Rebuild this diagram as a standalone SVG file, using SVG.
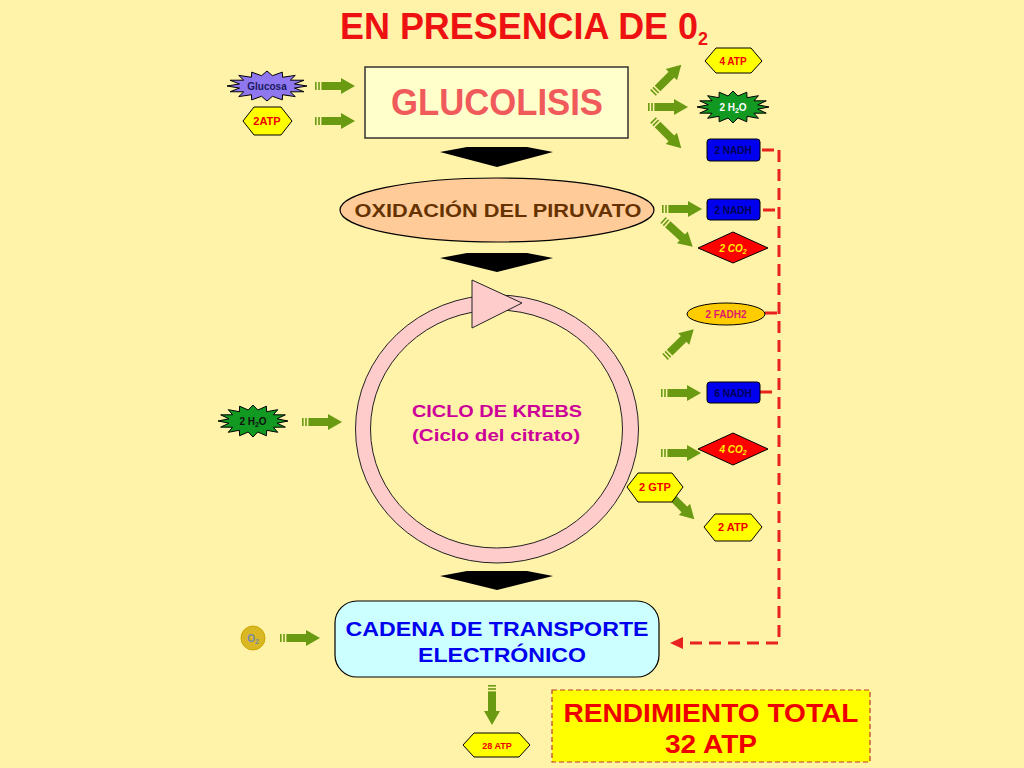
<svg xmlns="http://www.w3.org/2000/svg" xmlns:xlink="http://www.w3.org/1999/xlink" width="1024" height="768" viewBox="0 0 1024 768">
<style>
text{font-family:"Liberation Sans","DejaVu Sans",sans-serif;font-weight:bold;text-anchor:middle}
.hex{fill:#ffff00;stroke:#000;stroke-width:1}
.nadh{fill:#0000ee;stroke:#000;stroke-width:1}
.co2{fill:#ff0000;stroke:#000;stroke-width:1}
.ga{fill:#6a9a12}
.blk{fill:#000}
.dash{fill:none;stroke:#e8221f;stroke-width:3;stroke-dasharray:12 7}
.sm{font-size:10px}
.red{fill:#ee0000}
</style>
<defs>
<path id="star" stroke="#000" stroke-width="1" vector-effect="non-scaling-stroke" d="M1,0 L0.687,0.137 L0.924,0.383 L0.582,0.389 L0.707,0.707 L0.389,0.582 L0.383,0.924 L0.137,0.687 L0,1 L-0.137,0.687 L-0.383,0.924 L-0.389,0.582 L-0.707,0.707 L-0.582,0.389 L-0.924,0.383 L-0.687,0.137 L-1,0 L-0.687,-0.137 L-0.924,-0.383 L-0.582,-0.389 L-0.707,-0.707 L-0.389,-0.582 L-0.383,-0.924 L-0.137,-0.687 L0,-1 L0.137,-0.687 L0.383,-0.924 L0.389,-0.582 L0.707,-0.707 L0.582,-0.389 L0.924,-0.383 L0.687,-0.137 Z"/>
<g id="garrow" class="ga">
<rect x="0" y="-4" width="1.6" height="8"/>
<rect x="3.2" y="-4" width="1.6" height="8"/>
<rect x="6.4" y="-4" width="20" height="8"/>
<polygon points="26,-8 40,0 26,8"/>
</g>
</defs>
<rect x="0" y="0" width="1024" height="768" fill="#fff2a9"/>

<g id="title">
<text x="524" y="39" font-size="36" fill="#ee1111" textLength="368" lengthAdjust="spacingAndGlyphs">EN PRESENCIA DE 0<tspan font-size="18" dy="6">2</tspan></text>
</g>

<g id="connectors">
<use xlink:href="#garrow" transform="translate(315,86)"/>
<use xlink:href="#garrow" transform="translate(315,121)"/>
<use xlink:href="#garrow" transform="translate(653,93) rotate(-45)"/>
<use xlink:href="#garrow" transform="translate(648,107)"/>
<use xlink:href="#garrow" transform="translate(653,120) rotate(45)"/>
<use xlink:href="#garrow" transform="translate(662,209)"/>
<use xlink:href="#garrow" transform="translate(663,220) rotate(42)"/>
<use xlink:href="#garrow" transform="translate(665,357) rotate(-44)"/>
<use xlink:href="#garrow" transform="translate(661,393)"/>
<use xlink:href="#garrow" transform="translate(661,453)"/>
<use xlink:href="#garrow" transform="translate(302,422)"/>
<use xlink:href="#garrow" transform="translate(280,638)"/>
<use xlink:href="#garrow" transform="translate(492,685) rotate(90)"/>
<g class="ga" transform="translate(671,496) rotate(45)">
<rect x="0" y="-4" width="20" height="8"/>
<polygon points="19,-8 33,0 19,8"/>
</g>
<polygon class="blk" points="467,147 527,147 553,152 497,167 440,152"/>
<polygon class="blk" points="467,253 527,253 553,258 497,272 440,258"/>
<polygon class="blk" points="467,571 527,571 553,576 497,590 440,576"/>
<path class="dash" d="M779,150 V643 H684"/>
<path class="dash" d="M762,150 H779 M763,210 H779 M765,313 H779 M760,392 H779" stroke-dasharray="none"/>
<polygon points="670,643 683,637 683,649" fill="#e8221f"/>
</g>

<g id="glucosa">
<use xlink:href="#star" fill="#8f77f0" transform="translate(267,86) scale(40,15)"/>
<text x="267" y="90" font-size="10" fill="#1a1a5e">Glucosa</text>
</g>
<g id="atp2-in">
<polygon class="hex" points="243,121 254,107 281,107 292,121 281,135 254,135"/>
<text x="267" y="125" font-size="11" class="red">2ATP</text>
</g>

<g id="glucolisis">
<rect x="365" y="67" width="263" height="71" fill="#ffffcc" stroke="#333" stroke-width="1.5"/>
<text x="497" y="115" font-size="36" fill="#f05a5a" font-weight="normal" textLength="212" lengthAdjust="spacingAndGlyphs">GLUCOLISIS</text>
</g>

<g id="atp4">
<polygon class="hex" points="705,61 716,48 751,48 762,61 751,73 716,73"/>
<text x="733" y="65" class="sm red">4 ATP</text>
</g>
<g id="h2o-out">
<use xlink:href="#star" fill="#119922" transform="translate(733,107) scale(36,16)"/>
<text x="733" y="111" font-size="10" fill="#fff">2 H<tspan font-size="7" dy="2">2</tspan><tspan dy="-2">O</tspan></text>
</g>
<g id="nadh1">
<rect class="nadh" x="707" y="139" width="53" height="22" rx="3"/>
<text x="733" y="154" class="sm" fill="#000055">2 NADH</text>
</g>

<g id="oxidacion">
<ellipse cx="497" cy="210" rx="157" ry="32" fill="#ffcc99" stroke="#000" stroke-width="1.2"/>
<text x="498" y="217" font-size="19" fill="#663300" textLength="287" lengthAdjust="spacingAndGlyphs">OXIDACIÓN DEL PIRUVATO</text>
</g>
<g id="nadh2">
<rect class="nadh" x="707" y="199" width="53" height="21" rx="3"/>
<text x="733" y="214" class="sm" fill="#000055">2 NADH</text>
</g>
<g id="co2-2">
<polygon class="co2" points="698,248 733,232 768,248 733,263"/>
<text x="733" y="252" class="sm" fill="#ffee00" font-style="italic">2 CO<tspan font-size="7" dy="2">2</tspan></text>
</g>

<g id="krebs">
<path fill-rule="evenodd" fill="#ffcccc" stroke="#222" stroke-width="1" d="M355.5,429 a141.5,134 0 1,0 283,0 a141.5,134 0 1,0 -283,0 Z M370.5,429 a126,119 0 1,0 252,0 a126,119 0 1,0 -252,0 Z"/>
<polygon points="472,280 522,303 472,328" fill="#ffcccc" stroke="#222" stroke-width="1"/>
<text x="497" y="417" font-size="17" fill="#cc0099" textLength="170" lengthAdjust="spacingAndGlyphs">CICLO DE KREBS</text>
<text x="496" y="441" font-size="17" fill="#cc0099" textLength="168" lengthAdjust="spacingAndGlyphs">(Ciclo del citrato)</text>
</g>
<g id="fadh2">
<ellipse cx="726" cy="314" rx="39" ry="11" fill="#ffcc00" stroke="#000" stroke-width="1"/>
<text x="726" y="318" class="sm" fill="#e01a6a">2 FADH2</text>
</g>
<g id="nadh6">
<rect class="nadh" x="707" y="382" width="53" height="21" rx="3"/>
<text x="733" y="397" class="sm" fill="#000055">6 NADH</text>
</g>
<g id="co2-4">
<polygon class="co2" points="698,449 733,433 768,449 733,465"/>
<text x="733" y="453" class="sm" fill="#ffee00" font-style="italic">4 CO<tspan font-size="7" dy="2">2</tspan></text>
</g>
<g id="gtp">
<polygon class="hex" points="627,487 638,473 672,473 683,487 672,502 638,502"/>
<text x="655" y="491" font-size="11" class="red">2 GTP</text>
</g>
<g id="atp2-out">
<polygon class="hex" points="704,527 715,514 751,514 762,527 751,541 715,541"/>
<text x="733" y="531" font-size="11" class="red">2 ATP</text>
</g>
<g id="h2o-in">
<use xlink:href="#star" fill="#119922" transform="translate(253,421) scale(35,16)"/>
<text x="253" y="425" font-size="10" fill="#111">2 H<tspan font-size="7" dy="2">2</tspan><tspan dy="-2">O</tspan></text>
</g>
<g id="o2">
<circle cx="253" cy="638" r="12" fill="#d9b824" stroke="#c9a800" stroke-width="1"/>
<text x="253" y="642" font-size="10" fill="#7788aa">O<tspan font-size="7" dy="2">2</tspan></text>
</g>

<g id="cadena">
<rect x="335" y="601" width="324" height="76" rx="22" fill="#ccffff" stroke="#000" stroke-width="1.2"/>
<text x="497" y="636" font-size="21" fill="#0000ee" textLength="303" lengthAdjust="spacingAndGlyphs">CADENA DE TRANSPORTE</text>
<text x="502" y="662" font-size="21" fill="#0000ee" textLength="168" lengthAdjust="spacingAndGlyphs">ELECTRÓNICO</text>
</g>
<g id="atp28">
<polygon class="hex" points="463,745 474,733 519,733 530,745 519,757 474,757"/>
<text x="497" y="749" font-size="9" class="red">28 ATP</text>
</g>
<g id="rendimiento">
<rect x="552" y="690" width="318" height="72" fill="#ffff00" stroke="#c0392b" stroke-width="1.2" stroke-dasharray="5 3"/>
<text x="711" y="722" font-size="25" fill="#ee0000" textLength="295" lengthAdjust="spacingAndGlyphs">RENDIMIENTO TOTAL</text>
<text x="711" y="753" font-size="25" fill="#ee0000" textLength="92" lengthAdjust="spacingAndGlyphs">32 ATP</text>
</g>
</svg>
